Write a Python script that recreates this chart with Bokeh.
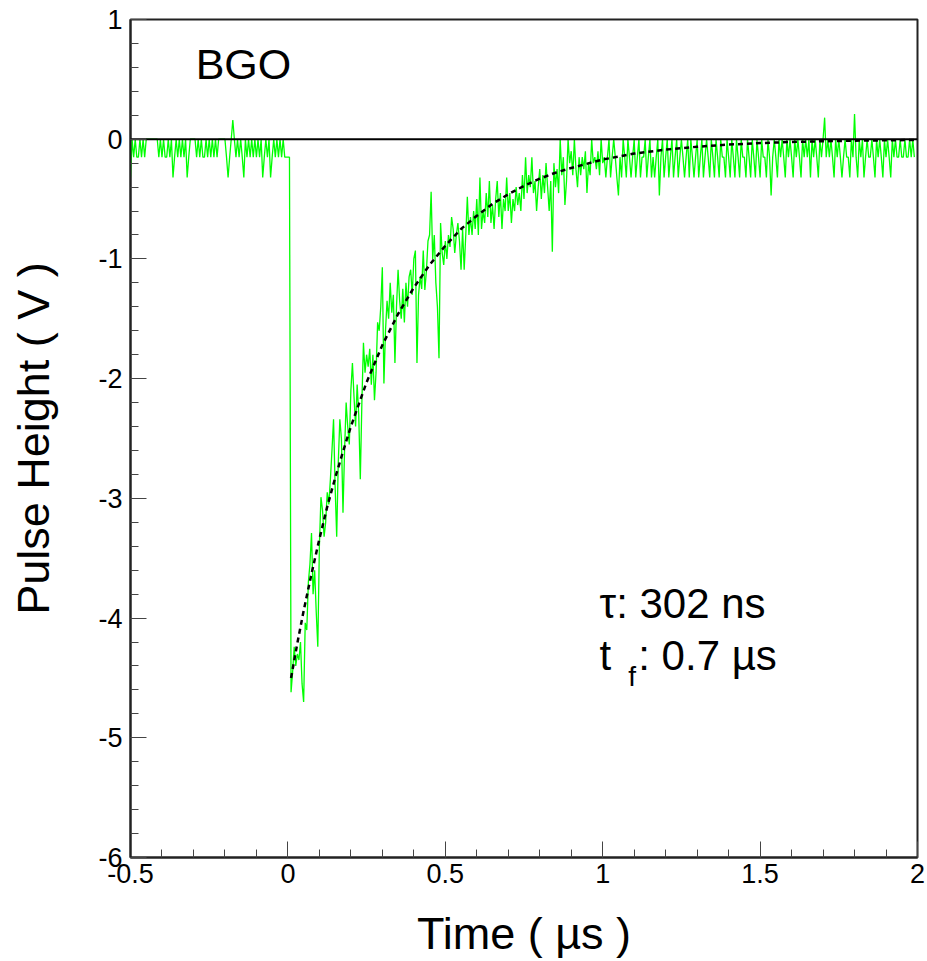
import numpy as np
from bokeh.plotting import figure
from bokeh.models import Range1d, FixedTicker, NumeralTickFormatter
from bokeh.core.properties import value
from bokeh.embed import file_html
from bokeh.resources import INLINE

# ---------------- data ----------------
t_start = -0.5      # us, first sample
dt = 0.005          # us, sample spacing

# baseline before the pulse: -0.500 ... 0.005 us
pre_trigger_v = [
    -0.32, 0.0, -0.15, 0.0, -0.15, -0.15, 0.0, -0.15, 0.0, -0.15,
    0.0, 0.0, 0.0, 0.0, 0.0, 0.0, 0.0, 0.0, -0.15, 0.0,
    -0.15, 0.0, -0.15, -0.15, 0.0, -0.15, 0.0, -0.32, -0.15, 0.0,
    -0.15, 0.0, -0.15, 0.0, -0.15, 0.0, -0.32, -0.15, 0.0, 0.0,
    0.0, 0.0, -0.15, 0.0, -0.15, 0.0, -0.15, -0.15, 0.0, -0.15,
    0.0, -0.15, 0.0, -0.15, 0.0, -0.15, 0.0, 0.0, 0.0, 0.0,
    0.0, -0.15, -0.32, -0.15, 0.0, 0.16, 0.0, -0.15, 0.0, -0.15,
    0.0, -0.15, -0.32, 0.0, -0.15, 0.0, -0.15, 0.0, -0.15, 0.0,
    -0.15, 0.0, -0.15, 0.0, -0.32, -0.15, 0.0, -0.15, 0.0, -0.32,
    -0.15, 0.0, -0.15, 0.0, -0.15, 0.0, -0.15, 0.0, -0.15, -0.15,
    -0.15, -0.15,
]

# pulse and tail: 0.010 ... 1.990 us
pulse_v = [
    -4.62, -4.45, -4.24, -4.40, -4.30, -4.35, -4.20, -4.55, -4.70, -4.04,
    -4.10, -3.70, -3.55, -3.29, -3.80, -3.60, -3.95, -4.24, -3.40, -2.99,
    -3.10, -3.32, -3.20, -2.95, -3.05, -2.84, -2.60, -2.34, -2.90, -3.32,
    -2.70, -2.34, -2.50, -3.12, -2.60, -2.20, -2.40, -2.55, -2.10, -1.87,
    -2.15, -2.40, -2.05, -2.30, -2.84, -2.20, -1.70, -1.95, -1.80, -1.90,
    -1.75, -2.05, -1.80, -2.18, -1.95, -1.53, -1.60, -1.40, -1.07, -2.04,
    -1.60, -1.35, -1.50, -1.20, -1.45, -1.30, -1.87, -1.40, -1.09, -1.35,
    -1.50, -1.25, -1.53, -1.20, -1.40, -1.15, -1.09, -1.30, -1.00, -0.93,
    -1.87, -1.30, -1.15, -1.25, -0.93, -1.26, -1.10, -0.85, -0.80, -0.44,
    -1.00, -0.80, -1.20, -1.40, -1.83, -0.70, -0.95, -1.05, -0.85, -1.00,
    -0.80, -0.90, -0.65, -0.75, -0.95, -0.80, -0.70, -0.85, -1.09, -0.75,
    -1.09, -0.80, -0.48, -0.80, -0.65, -0.80, -0.60, -0.75, -0.50, -0.80,
    -0.32, -0.75, -0.60, -0.70, -0.45, -0.65, -0.35, -0.70, -0.55, -0.75,
    -0.50, -0.35, -0.65, -0.45, -0.75, -0.50, -0.60, -0.32, -0.60, -0.45,
    -0.70, -0.50, -0.60, -0.40, -0.55, -0.45, -0.60, -0.30, -0.50, -0.15,
    -0.45, -0.30, -0.40, -0.15, -0.45, -0.35, -0.60, -0.40, -0.25, -0.50,
    -0.30, -0.45, -0.20, -0.40, -0.60, -0.35, -0.94, -0.20, -0.40, -0.25,
    -0.45, 0.00, -0.30, -0.15, -0.55, -0.35, 0.00, -0.20, -0.10, -0.30,
    0.00, -0.25, -0.40, -0.15, -0.30, -0.15, -0.25, -0.10, -0.45, -0.20,
    -0.30, 0.00, -0.20, -0.15, -0.25, -0.10, -0.30, 0.00, -0.20, -0.15,
    -0.32, -0.15, 0.00, -0.32, -0.15, 0.00, -0.15, -0.32, -0.47, -0.15,
    -0.32, 0.00, -0.15, -0.32, 0.00, -0.15, -0.32, -0.15, 0.00, -0.32,
    -0.15, 0.00, -0.32, -0.15, -0.15, 0.00, -0.32, -0.15, 0.00, -0.32,
    -0.15, -0.32, -0.15, 0.00, -0.47, -0.15, 0.00, -0.32, -0.15, 0.00,
    -0.32, -0.15, 0.00, -0.32, -0.15, 0.00, -0.32, -0.15, 0.00, -0.15,
    -0.32, -0.15, 0.00, -0.32, 0.00, -0.15, -0.32, -0.15, 0.00, -0.32,
    -0.15, 0.00, -0.32, -0.15, 0.00, -0.15, -0.32, 0.00, -0.15, -0.32,
    0.00, -0.15, -0.32, 0.00, -0.15, -0.15, -0.32, 0.00, -0.15, -0.32,
    0.00, -0.15, -0.32, 0.00, -0.15, -0.32, 0.00, -0.15, -0.15, -0.32,
    0.00, -0.15, -0.32, 0.00, -0.15, -0.32, 0.00, -0.15, -0.32, 0.00,
    -0.15, -0.15, -0.32, 0.00, -0.15, -0.47, -0.15, 0.00, -0.15, -0.32,
    0.00, -0.15, 0.00, -0.15, -0.32, 0.00, -0.15, 0.00, -0.15, -0.32,
    0.00, -0.15, 0.00, -0.15, -0.32, 0.00, -0.15, 0.00, -0.15, 0.00,
    -0.32, 0.00, -0.15, 0.00, -0.15, -0.32, 0.00, -0.15, 0.00, 0.18,
    -0.15, 0.00, -0.15, 0.00, -0.15, -0.32, 0.00, -0.15, 0.00, -0.15,
    -0.32, -0.15, 0.00, -0.15, -0.15, -0.32, 0.00, -0.15, 0.21, -0.15,
    -0.32, 0.00, -0.15, 0.00, -0.32, -0.15, 0.00, -0.15, -0.15, 0.00,
    -0.15, -0.32, 0.00, -0.15, 0.00, -0.15, -0.32, 0.00, -0.15, 0.00,
    -0.15, -0.32, 0.00, -0.15, 0.00, -0.15, -0.15, 0.00, -0.15, -0.15,
    0.00, -0.15, -0.15, 0.00, -0.15, 0.00, -0.15,
]

# exponential fit curve (tau = 302 ns)
fit_t = [0.01, 0.03, 0.05, 0.075, 0.10, 0.125, 0.15, 0.175, 0.20, 0.25,
         0.30, 0.35, 0.40, 0.45, 0.50, 0.55, 0.60, 0.65, 0.70, 0.75,
         0.80, 0.85, 0.90, 1.00, 1.10, 1.20, 1.30, 1.40, 1.50, 1.60,
         1.70, 1.80, 1.90, 2.00]
fit_v = [-4.50, -4.21, -3.94, -3.63, -3.34, -3.07, -2.83, -2.61, -2.40, -2.03,
         -1.72, -1.46, -1.24, -1.05, -0.89, -0.75, -0.64, -0.54, -0.46, -0.39,
         -0.33, -0.28, -0.24, -0.17, -0.12, -0.087, -0.063, -0.045, -0.032, -0.023,
         -0.017, -0.012, -0.009, -0.006]

x_major = [-0.5, 0, 0.5, 1, 1.5, 2]
y_major = [-6, -5, -4, -3, -2, -1, 0, 1]

# ---------------- figure ----------------
trace_v = pre_trigger_v + pulse_v
trace_t = t_start + dt * np.arange(len(trace_v))

FONT = "Liberation Sans"

p = figure(width=927, height=961, output_backend="svg", toolbar_location=None,
           x_range=Range1d(-0.5, 2.0), y_range=Range1d(-6.0, 1.0),
           min_border_left=130, min_border_right=10,
           min_border_top=19, min_border_bottom=102)

p.background_fill_color = "white"
p.border_fill_color = "white"
p.outline_line_color = "#222222"
p.outline_line_width = 2
p.xgrid.visible = False
p.ygrid.visible = False

p.line(trace_t, trace_v, line_color="#00ff00", line_width=1.3)
p.line([-0.5, 2.0], [0, 0], line_color="black", line_width=2)
p.line(fit_t, fit_v, line_color="black", line_width=2.5, line_dash="5 4")

# axes
x_minor = [round(v, 2) for v in np.arange(-0.5, 2.001, 0.1)]
y_minor = [round(v, 2) for v in np.arange(-6.0, 1.001, 0.2)]
p.xaxis.ticker = FixedTicker(ticks=x_major, minor_ticks=x_minor)
p.yaxis.ticker = FixedTicker(ticks=y_major, minor_ticks=y_minor)
p.xaxis.formatter = NumeralTickFormatter(format="0.[0]")
p.yaxis.formatter = NumeralTickFormatter(format="0")

for ax in (p.xaxis[0], p.yaxis[0]):
    ax.axis_line_color = "#222222"
    ax.axis_line_width = 2
    ax.major_tick_line_color = "#444444"
    ax.minor_tick_line_color = "#444444"
    ax.major_tick_line_width = 1
    ax.minor_tick_line_width = 1
    ax.major_tick_in = 16
    ax.major_tick_out = 0
    ax.minor_tick_in = 8
    ax.minor_tick_out = 0
    ax.major_label_text_font = FONT
    ax.major_label_text_font_size = "27px"
    ax.major_label_text_color = "black"
    ax.axis_label_text_font = FONT
    ax.axis_label_text_font_size = "45px"
    ax.axis_label_text_font_style = "normal"
    ax.axis_label_text_color = "black"

p.xaxis.major_label_standoff = 6
p.yaxis.major_label_standoff = 8
p.xaxis.axis_label = "Time ( µs )"
p.yaxis.axis_label = "Pulse Height ( V )"
p.xaxis.axis_label_standoff = 22
p.yaxis.axis_label_standoff = 36

# annotations
p.text(x=[-0.293], y=[0.63], text=["BGO"], text_font=value(FONT),
       text_font_size="43px", text_color="black", text_baseline="alphabetic",
       text_align="left")
p.text(x=[0.99], y=[-3.88], text=["τ: 302 ns"], text_font=value(FONT),
       text_font_size="42px", text_color="black", text_baseline="alphabetic",
       text_align="left")
p.text(x=[0.99], y=[-4.31], text=["t"], text_font=value(FONT),
       text_font_size="42px", text_color="black", text_baseline="alphabetic",
       text_align="left")
p.text(x=[1.081], y=[-4.49], text=["f"], text_font=value(FONT),
       text_font_size="28px", text_color="black", text_baseline="alphabetic",
       text_align="left")
p.text(x=[1.113], y=[-4.31], text=[": 0.7 µs"], text_font=value(FONT),
       text_font_size="42px", text_color="black", text_baseline="alphabetic",
       text_align="left")

open("out.html", "w").write(file_html(p, INLINE))
